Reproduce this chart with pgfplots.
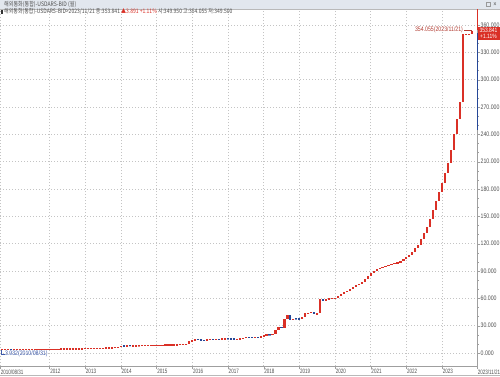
\documentclass[border=0pt]{standalone}
\usepackage{pgfplots}
\pgfplotsset{compat=1.18}
\usepackage{pgfplotstable}
\usepackage{fontspec}
\setmainfont{Liberation Sans}
\newfontfamily\lab[FakeStretch=0.8]{Liberation Sans}
\newfontfamily\labn[FakeStretch=0.72]{Liberation Sans}
\newfontfamily\kr[FakeStretch=0.82]{Noto Sans CJK KR}
\definecolor{candleup}{RGB}{218,48,38}
\definecolor{candledn}{RGB}{38,72,152}
\definecolor{txtgray}{RGB}{80,80,80}
\definecolor{gridc}{RGB}{196,196,196}
\definecolor{hdr}{RGB}{226,231,238}
\definecolor{annred}{RGB}{178,60,50}
\definecolor{annblue}{RGB}{60,90,170}

\pgfplotstableread{
x o c
0 3.932 3.955
1 3.955 3.962
2 3.962 3.965
3 3.965 3.981
4 3.981 3.976
5 3.976 3.999
6 3.999 4.029
7 4.029 4.052
8 4.052 4.081
9 4.081 4.093
10 4.093 4.110
11 4.110 4.140
12 4.140 4.197
13 4.197 4.207
14 4.207 4.233
15 4.233 4.281
16 4.281 4.304
17 4.304 4.352
18 4.352 4.355
19 4.355 4.379
20 4.379 4.427
21 4.427 4.474
22 4.474 4.526
23 4.526 4.601
24 4.601 4.655
25 4.655 4.702
26 4.702 4.760
27 4.760 4.827
28 4.827 4.917
29 4.917 4.980
30 4.980 5.045
31 5.045 5.123
32 5.123 5.184
33 5.184 5.281
34 5.281 5.383
35 5.383 5.500
36 5.500 5.733
37 5.733 5.793
38 5.793 5.910
39 5.910 6.131
40 6.131 6.518
41 6.518 8.018
42 8.018 7.880
43 7.880 8.005
44 8.005 8.002
45 8.002 8.084
46 8.084 8.133
47 8.133 8.160
48 8.160 8.403
49 8.403 8.429
50 8.429 8.490
51 8.490 8.531
52 8.531 8.551
53 8.551 8.640
54 8.640 8.725
55 8.725 8.818
56 8.818 8.903
57 8.903 8.987
58 8.987 9.090
59 9.090 9.227
60 9.227 9.360
61 9.360 9.461
62 9.461 9.590
63 9.590 9.711
64 9.711 12.998
65 12.998 13.886
66 13.886 15.687
67 15.687 14.658
68 14.658 14.200
69 14.200 13.989
70 13.989 14.997
71 14.997 15.006
72 15.006 14.922
73 14.922 15.279
74 15.279 15.160
75 15.160 15.802
76 15.802 15.891
77 15.891 15.865
78 15.865 15.530
79 15.530 15.386
80 15.386 15.393
81 15.393 16.099
82 16.099 16.600
83 16.600 17.666
84 17.666 17.395
85 17.395 17.305
86 17.305 17.625
87 17.625 17.397
88 17.397 18.602
89 18.602 19.655
90 19.655 20.153
91 20.153 20.130
92 20.130 20.487
93 20.487 24.881
94 24.881 28.851
95 28.851 27.313
96 27.313 37.099
97 37.099 41.249
98 41.249 36.284
99 36.284 37.722
100 37.722 37.700
101 37.700 37.390
102 37.390 39.001
103 39.001 43.347
104 43.347 44.424
105 44.424 44.816
106 44.816 42.450
107 42.450 43.862
108 43.862 59.500
109 59.500 57.560
110 57.560 59.700
111 59.700 59.870
112 59.870 59.895
113 59.895 60.335
114 60.335 62.215
115 62.215 64.469
116 64.469 66.840
117 66.840 68.540
118 68.540 70.455
119 70.455 72.315
120 72.315 74.190
121 74.190 76.180
122 76.180 78.320
123 78.320 81.320
124 81.320 84.145
125 84.145 87.335
126 87.335 89.815
127 89.815 91.990
128 91.990 93.490
129 93.490 94.720
130 94.720 95.720
131 95.720 96.740
132 96.740 97.740
133 97.740 98.740
134 98.740 99.700
135 99.700 100.940
136 100.940 102.720
137 102.720 105.000
138 105.000 107.620
139 107.620 110.990
140 110.990 115.000
141 115.000 119.000
142 119.000 125.230
143 125.230 131.200
144 131.200 138.700
145 138.700 147.300
146 147.300 156.900
147 156.900 166.400
148 166.400 177.100
149 177.100 186.800
150 186.800 197.300
151 197.300 209.000
152 209.000 222.500
153 222.500 239.900
154 239.900 256.700
155 256.700 275.400
156 275.400 349.900
157 349.900 349.950
158 349.950 349.950
159 349.950 353.841
}\ars

\begin{document}
\begin{tikzpicture}
\path[use as bounding box, fill=white] (0pt,0pt) rectangle (500pt,376pt);
\fill[hdr] (0pt,367pt) rectangle (500pt,376pt);
\draw[gray!55] (0pt,367pt) -- (500pt,367pt);
\node[anchor=west, inner sep=0pt, font=\kr\fontsize{6.2}{7}\selectfont, text=txtgray] at (4pt,371.6pt) {해외통화(통합)-USDARS-BID (월)};
\draw[gray!80, line width=0.5pt] (486pt,369.5pt) rectangle (490pt,373.5pt);
\node[anchor=center, inner sep=0pt, font=\lab\fontsize{7}{7}\selectfont, text=txtgray] at (495pt,371.5pt) {×};

\begin{axis}[
  at={(0pt,10pt)}, anchor=south west,
  scale only axis, width=477pt, height=357pt,
  xmin=0.36, xmax=160.75, ymin=-14.3, ymax=377.6,
  clip=false,
  axis x line*=bottom, axis y line*=right,
  axis line style={-, gray!75},
  xtick={0.36,17,29,41,53,65,77,89,101,113,125,137,149,160.75},
  xticklabels={2010/08/31,2012,2013,2014,2015,2016,2017,2018,2019,2020,2021,2022,2023,2023/11/21},
  ytick={0,30,60,90,120,150,180,210,240,270,300,330,360},
  yticklabels={0.000,30.000,60.000,90.000,120.000,150.000,180.000,210.000,240.000,270.000,300.000,330.000,360.000},
  minor y tick num=2,
  tick align=outside,
  major tick length=3pt, minor tick length=1.5pt,
  tick style={gray!75},
  grid=major,
  major grid style={gridc, dash pattern=on 1pt off 2pt},
  xticklabel style={anchor=north west, inner sep=0.3pt, xshift=0.3pt, font=\labn\fontsize{6.3}{7}\selectfont, text=txtgray},
  yticklabel style={anchor=west, inner sep=0.5pt, font=\lab\fontsize{6.5}{7}\selectfont, text=txtgray},
]
\addplot[candleup, only marks, mark=-, mark size=1.1pt, mark options={line width=0.9pt, solid},
  error bars/.cd, y dir=both, y explicit, error mark=none,
  error bar style={line width=2.2pt, candleup}]
  table[x=x, y expr={(\thisrow{o}+\thisrow{c})/2}, y error expr={abs(\thisrow{c}-\thisrow{o})/2},
        restrict expr to domain={\thisrow{c}-\thisrow{o}}{0:1000}] {\ars};
\addplot[candledn, only marks, mark=-, mark size=1.1pt, mark options={line width=0.9pt, solid},
  error bars/.cd, y dir=both, y explicit, error mark=none,
  error bar style={line width=2.2pt, candledn}]
  table[x=x, y expr={(\thisrow{o}+\thisrow{c})/2}, y error expr={abs(\thisrow{c}-\thisrow{o})/2},
        restrict expr to domain={\thisrow{c}-\thisrow{o}}{-1000:-0.00001}] {\ars};
% right-edge range markers
\addplot[candledn, line width=0.9pt] coordinates {(160.75,245) (160.75,351)};
\addplot[candleup, line width=0.9pt] coordinates {(160.75,354) (160.75,377.6)};
% max annotation
\node[anchor=east, inner sep=0pt, font=\lab\fontsize{6.5}{7}\selectfont, text=annred] at (axis cs:156.1,354.6) {354.055(2023/11/21)};
\draw[annred, line width=0.4pt] (axis cs:156.4,354.6) -- (axis cs:158.9,354.6) -- (axis cs:158.9,352.5);
% min annotation
\draw[annblue, line width=0.4pt] (axis cs:0.7,3.5) -- (axis cs:0.7,-1.2) -- (axis cs:1.9,-1.2);
\node[anchor=west, inner sep=0pt, font=\lab\fontsize{6.5}{7}\selectfont, text=annblue] at (axis cs:2.0,-1.2) {3.932(2010/08/31)};
% current price box
\node[anchor=west, fill=candleup, text=white, inner sep=0.8pt, align=center,
      minimum width=22pt, font=\lab\fontsize{6.2}{6.6}\selectfont] at (axis cs:160.85,351.0) {353.841\\+1.11\%};
\end{axis}

\fill[black!80] (1.2pt,362pt) rectangle (2.6pt,366pt);
\node[anchor=west, inner sep=0pt, font=\kr\fontsize{6.1}{7}\selectfont, text=txtgray] at (4pt,364pt)
  {해외통화(통합)-USDARS-BID>2023/11/21 종:353.841 \textcolor{candleup}{▲3.891 +1.11\%} 시:349.950 고:354.055 저:349.500};
\draw[gray!55] (0pt,0.5pt) -- (500pt,0.5pt);
\end{tikzpicture}
\end{document}
